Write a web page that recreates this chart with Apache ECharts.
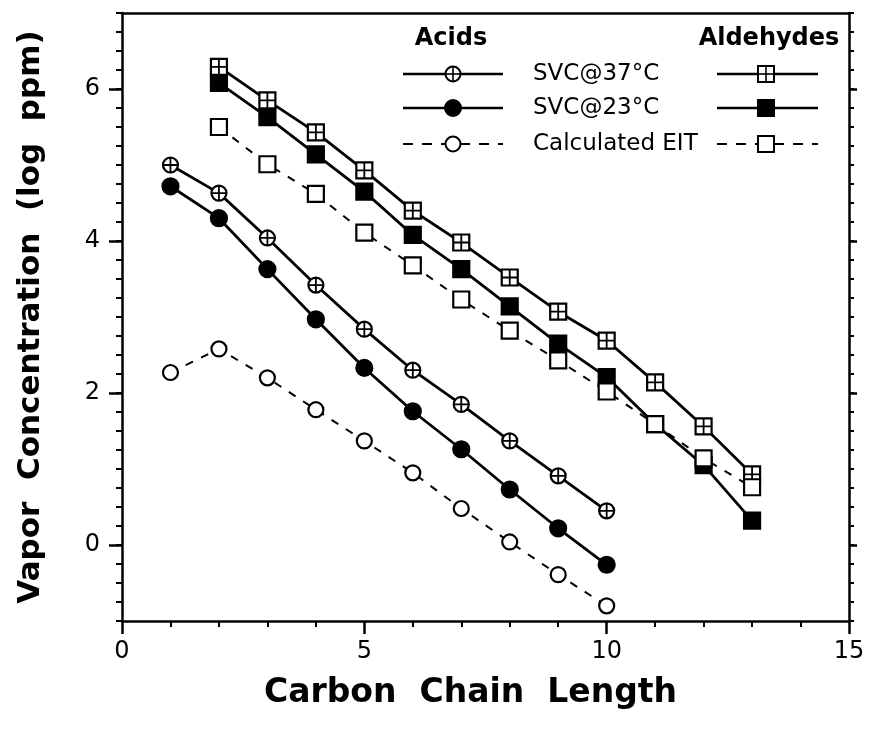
<!DOCTYPE html>
<html><head><meta charset="utf-8">
<script src="https://cdn.jsdelivr.net/npm/echarts/dist/echarts.min.js"></script>
<style>html,body{margin:0;padding:0;background:#fff}#c{width:873px;height:735px}</style>
</head><body><div id="c"></div>
<script>
// ---- data ----
const carbonAcids = [1, 2, 3, 4, 5, 6, 7, 8, 9, 10];
const carbonAldehydes = [2, 3, 4, 5, 6, 7, 8, 9, 10, 11, 12, 13];
const acidsSVC37 = [5.00, 4.63, 4.04, 3.42, 2.84, 2.30, 1.85, 1.37, 0.91, 0.45];
const acidsSVC23 = [4.72, 4.30, 3.63, 2.97, 2.33, 1.76, 1.26, 0.73, 0.22, -0.26];
const acidsEIT = [2.27, 2.58, 2.20, 1.78, 1.37, 0.95, 0.48, 0.04, -0.39, -0.80];
const aldSVC37 = [6.29, 5.85, 5.43, 4.93, 4.40, 3.98, 3.52, 3.07, 2.69, 2.14, 1.56, 0.93];
const aldSVC23 = [6.08, 5.63, 5.14, 4.65, 4.08, 3.63, 3.14, 2.65, 2.21, 1.59, 1.05, 0.32];
const aldEIT = [5.50, 5.01, 4.62, 4.11, 3.68, 3.23, 2.82, 2.43, 2.02, 1.59, 1.14, 0.76];
const xTickLabels = [0, 5, 10, 15];
const yTickLabels = [0, 2, 4, 6];
const legendLabels = ['SVC@37°C', 'SVC@23°C', 'Calculated EIT'];
const groupTitles = ['Acids', 'Aldehydes'];

// ---- chart ----
const FONT = 'DejaVu Sans';
const BLACK = '#000';
const chart = echarts.init(document.getElementById('c'), null, {renderer: 'canvas'});
const pairs = (xs, ys) => xs.map((x, i) => [x, ys[i]]);
const CROSS = 'path://M0,-1L0,1M-1,0L1,0';

function lineSer(xs, ys, sym, size, fill, dashed, z) {
  return {
    type: 'line', data: pairs(xs, ys), xAxisIndex: 0, yAxisIndex: 0,
    symbol: sym, symbolSize: size, showSymbol: true, showAllSymbol: true,
    itemStyle: {color: fill, borderColor: BLACK, borderWidth: 2.2, opacity: 1},
    lineStyle: {color: BLACK, width: dashed ? 2 : 2.8, type: dashed ? [8, 9] : 'solid'},
    z: z, silent: true, animation: false
  };
}
function crossSer(xs, ys, size, z) {
  return {
    type: 'scatter', data: pairs(xs, ys), xAxisIndex: 0, yAxisIndex: 0,
    symbol: CROSS, symbolSize: size,
    itemStyle: {color: 'none', borderColor: BLACK, borderWidth: 1.8, opacity: 1},
    z: z, silent: true, animation: false
  };
}

const axLine = {show: true, onZero: false, lineStyle: {color: BLACK, width: 2.5}};

// legend graphics
const rowsY = [74, 108, 144];
const g = [];
g.push({type: 'text', x: 451, y: 39, style: {text: groupTitles[0], font: 'bold 24px "' + FONT + '"', fill: BLACK, align: 'center', verticalAlign: 'middle'}, z: 100});
g.push({type: 'text', x: 769, y: 39, style: {text: groupTitles[1], font: 'bold 24px "' + FONT + '"', fill: BLACK, align: 'center', verticalAlign: 'middle'}, z: 100});
rowsY.forEach((y, r) => {
  const dashed = r === 2;
  [[403, 503, 453, 'circle'], [717, 818, 766, 'rect']].forEach(([x1, x2, xm, kind]) => {
    g.push({type: 'line', shape: {x1: x1, y1: y, x2: x2, y2: y},
      style: {stroke: BLACK, lineWidth: dashed ? 2 : 2.5, lineDash: dashed ? [10, 9] : null}, z: 100});
    const fill = r === 1 ? BLACK : '#fff';
    if (kind === 'circle') {
      g.push({type: 'circle', shape: {cx: xm, cy: y, r: r === 1 ? 8 : 7.5}, style: {fill: fill, stroke: BLACK, lineWidth: 2}, z: 101});
    } else {
      g.push({type: 'rect', shape: {x: xm - 8, y: y - 8, width: 16, height: 16}, style: {fill: fill, stroke: BLACK, lineWidth: 2}, z: 101});
    }
    if (r === 0) {
      const h = kind === 'circle' ? 7.5 : 8;
      g.push({type: 'line', shape: {x1: xm - h, y1: y, x2: xm + h, y2: y}, style: {stroke: BLACK, lineWidth: 1.6}, z: 102});
      g.push({type: 'line', shape: {x1: xm, y1: y - h, x2: xm, y2: y + h}, style: {stroke: BLACK, lineWidth: 1.6}, z: 102});
    }
  });
  g.push({type: 'text', x: 533, y: y, style: {text: legendLabels[r], font: '23px "' + FONT + '"', fill: BLACK, align: 'left', verticalAlign: 'middle'}, z: 100});
});

const option = {
  animation: false,
  backgroundColor: '#fff',
  grid: {left: 122, right: 24, top: 13, bottom: 114, containLabel: false, outerBoundsMode: 'none'},
  xAxis: [
    {type: 'value', min: 0, max: 15, interval: 5, position: 'bottom',
      axisLine: axLine,
      axisTick: {show: true, inside: false, length: 13, lineStyle: {color: BLACK, width: 2.5}},
      minorTick: {show: true, splitNumber: 5, length: 6, lineStyle: {color: BLACK, width: 2}},
      axisLabel: {show: true, fontSize: 24, fontFamily: FONT, color: BLACK, margin: 19,
        customValues: xTickLabels},
      splitLine: {show: false}, minorSplitLine: {show: false},
      name: 'Carbon  Chain  Length', nameLocation: 'middle', nameGap: 56,
      nameTextStyle: {fontSize: 33, fontWeight: 'bold', fontFamily: FONT, color: BLACK, padding: [0, 30, 0, 0]}},
    {type: 'value', min: 0, max: 15, position: 'top',
      axisLine: axLine, axisTick: {show: false}, axisLabel: {show: false}, splitLine: {show: false}}
  ],
  yAxis: [
    {type: 'value', min: -1, max: 7, interval: 1, position: 'left',
      axisLine: axLine,
      axisTick: {show: true, inside: false, length: 13, customValues: yTickLabels, lineStyle: {color: BLACK, width: 2.5}},
      axisLabel: {show: true, fontSize: 24, fontFamily: FONT, color: BLACK, margin: 22, customValues: yTickLabels},
      splitLine: {show: false},
      name: 'Vapor  Concentration  (log  ppm)', nameLocation: 'middle', nameGap: 76,
      nameTextStyle: {fontSize: 31, fontWeight: 'bold', fontFamily: FONT, color: BLACK}},
    {type: 'value', min: -1, max: 7, interval: 0.25, position: 'left',
      axisLine: {show: false, onZero: false},
      axisTick: {show: true, inside: false, length: 6, lineStyle: {color: BLACK, width: 2}},
      axisLabel: {show: false}, splitLine: {show: false}},
    {type: 'value', min: -1, max: 7, interval: 1, position: 'right',
      axisLine: axLine,
      axisTick: {show: true, inside: false, length: 8, customValues: yTickLabels, lineStyle: {color: BLACK, width: 2.5}},
      axisLabel: {show: false}, splitLine: {show: false}},
    {type: 'value', min: -1, max: 7, interval: 0.25, position: 'right',
      axisLine: {show: false, onZero: false},
      axisTick: {show: true, inside: false, length: 5, lineStyle: {color: BLACK, width: 2}},
      axisLabel: {show: false}, splitLine: {show: false}}
  ],
  series: [
    lineSer(carbonAcids, acidsEIT, 'circle', 15, '#fff', true, 2),
    lineSer(carbonAcids, acidsSVC23, 'circle', 16, BLACK, false, 3),
    lineSer(carbonAcids, acidsSVC37, 'circle', 15, '#fff', false, 4),
    crossSer(carbonAcids, acidsSVC37, 15, 5),
    lineSer(carbonAldehydes, aldSVC23, 'rect', 16, BLACK, false, 6),
    lineSer(carbonAldehydes, aldSVC37, 'rect', 16, '#fff', false, 7),
    crossSer(carbonAldehydes, aldSVC37, 16, 8),
    lineSer(carbonAldehydes, aldEIT, 'rect', 16, '#fff', true, 9)
  ],
  graphic: g
};
chart.setOption(option);
</script>
</body></html>
